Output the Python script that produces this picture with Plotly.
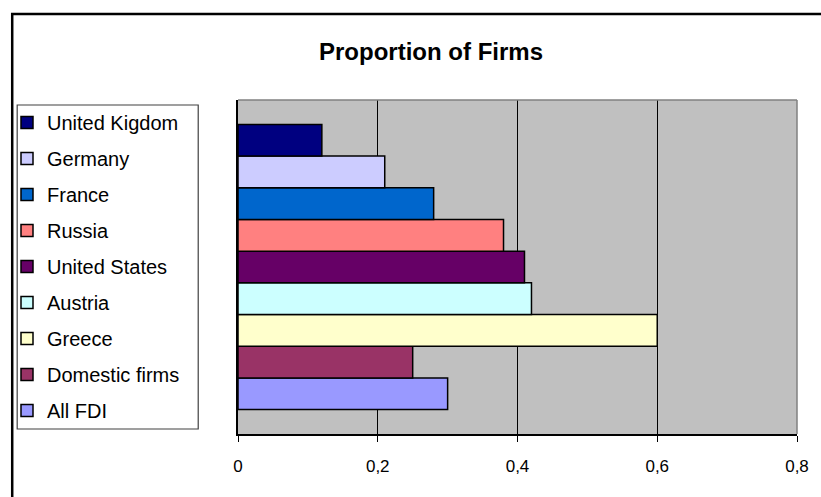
import plotly.graph_objects as go

# Data (bottom-to-top order as drawn in the chart)
series_names = ["All FDI", "Domestic firms", "Greece", "Austria", "United States",
                "Russia", "France", "Germany", "United Kigdom"]
series_values = [0.30, 0.25, 0.60, 0.42, 0.41, 0.38, 0.28, 0.21, 0.12]
x_tick_values = [0, 0.2, 0.4, 0.6, 0.8]
x_tick_labels = ["0", "0,2", "0,4", "0,6", "0,8"]
title_text = "Proportion of Firms"

bar_colors = ["#9999FF", "#993366", "#FFFFCC", "#CCFFFF", "#660066",
              "#FF8080", "#0066CC", "#CCCCFF", "#000080"]

FONT = "Arial, 'Liberation Sans', sans-serif"
W, H = 821, 497
ML, MR, MT, MB = 238, 21, 100, 63

fig = go.Figure()
n = len(series_names)
for i, (name, val) in enumerate(zip(series_names, series_values)):
    fig.add_trace(go.Bar(
        x=[val], y=["g"], name=name, orientation="h",
        marker=dict(color=bar_colors[i], line=dict(color="black", width=1.5)),
        legendgroup=name, legendrank=1000 + (n - i), hoverinfo="x+name",
    ))

pw = W - ML - MR
ph = H - MT - MB

def px_x(px):
    return (px - ML) / pw

def px_y(py):
    return (H - MB - py) / ph

fig.update_layout(
    width=W, height=H,
    margin=dict(l=ML, r=MR, t=MT, b=MB),
    paper_bgcolor="white",
    plot_bgcolor="#C0C0C0",
    barmode="group",
    bargap=0.146,
    separators=",.",
    font=dict(family=FONT, size=17, color="black"),
    showlegend=True,
    legend=dict(
        traceorder="grouped",
        tracegroupgap=7,
        x=7 / W, y=1 - 103 / H, xref="container", yref="container",
        xanchor="left", yanchor="top",
        bgcolor="rgba(0,0,0,0)", borderwidth=0,
        font=dict(family=FONT, size=20, color="black"),
        itemwidth=30, maxheight=460,
    ),
    xaxis=dict(
        range=[0, 0.8], tickvals=x_tick_values, ticktext=x_tick_labels,
        showgrid=True, gridcolor="black", gridwidth=1,
        showline=True, linecolor="black", linewidth=1.5,
        ticks="outside", ticklen=6, tickcolor="black", tickwidth=1,
        ticklabelstandoff=10,
        zeroline=False, fixedrange=True,
        tickfont=dict(family=FONT, size=17, color="black"),
    ),
    yaxis=dict(
        showticklabels=False, showgrid=False, zeroline=False,
        showline=True, linecolor="black", linewidth=1.5,
        ticks="", fixedrange=True,
    ),
    annotations=[
        dict(text="<b>" + title_text + "</b>", x=px_x(432), y=px_y(52),
             xref="paper", yref="paper",
             xanchor="center", yanchor="middle", showarrow=False,
             font=dict(family=FONT, size=24, color="black")),
    ],
    shapes=[
        # legend box
        dict(type="rect", xref="paper", yref="paper",
             x0=px_x(16), x1=px_x(198), y0=px_y(105), y1=px_y(429),
             line=dict(color="#404040", width=1.2), fillcolor="white",
             layer="below"),
        # plot-area top and right border (gray)
        dict(type="line", xref="paper", yref="paper", x0=0, x1=1, y0=1, y1=1,
             line=dict(color="#808080", width=1.5), layer="above"),
        dict(type="line", xref="paper", yref="paper", x0=1, x1=1, y0=0, y1=1,
             line=dict(color="#808080", width=1.5), layer="above"),
        # outer chart border
        dict(type="rect", xref="paper", yref="paper",
             x0=px_x(11), x1=px_x(W + 20), y0=px_y(14), y1=px_y(H + 20),
             line=dict(color="black", width=2.5), fillcolor="rgba(0,0,0,0)",
             layer="above"),
    ],
)

fig.write_html("out.html")
